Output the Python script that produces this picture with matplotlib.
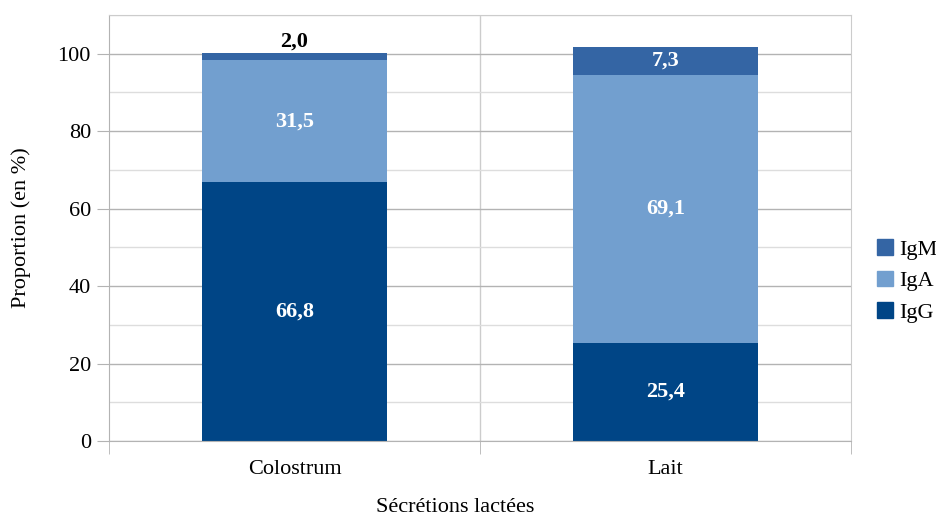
import matplotlib
matplotlib.use("Agg")
import matplotlib.pyplot as plt
from matplotlib.patches import Patch
import numpy as np

categories = ["Colostrum", "Lait"]
igg = [66.8, 25.4]
iga = [31.5, 69.1]
igm = [2.0, 7.3]
series_names = ["IgG", "IgA", "IgM"]
colors = {"IgG": "#004586", "IgA": "#729FCF", "IgM": "#3465A4"}

plt.rcParams['font.family'] = ['Liberation Serif', 'DejaVu Serif']

fig = plt.figure(figsize=(9.37, 5.17), dpi=100)
ax = fig.add_axes([109/937, 1-441/517, (851-109)/937, (441-15)/517])

x = np.arange(len(categories))
w = 0.5
data = {"IgG": igg, "IgA": iga, "IgM": igm}
bottom = np.zeros(len(categories))
for name in series_names:
    vals = np.array(data[name])
    ax.bar(x, vals, w, bottom=bottom, color=colors[name], zorder=3, label=name)
    for i, v in enumerate(vals):
        lab = f"{v:.1f}".replace(".", ",")
        if v < 4:
            ax.text(x[i], bottom[i] + v + 0.2, lab, ha="center", va="bottom",
                    color="black", fontsize=16, fontweight="bold", zorder=4)
        else:
            ax.text(x[i], bottom[i] + v/2, lab, ha="center", va="center",
                    color="white", fontsize=16, fontweight="bold", zorder=4)
    bottom += vals

ax.set_xlim(-0.5, 1.5)
ax.set_ylim(0, 110)
ax.set_yticks(np.arange(0, 101, 20))
ax.set_yticks(np.arange(10, 111, 20), minor=True)
ax.yaxis.grid(True, which="major", color="#b3b3b3", lw=1, zorder=0)
ax.yaxis.grid(True, which="minor", color="#dddddd", lw=1, zorder=0)
ax.tick_params(axis="y", which="major", length=9, color="#b3b3b3", labelsize=16, pad=4)
ax.tick_params(axis="y", which="minor", length=0)

ax.set_xticks(x)
ax.set_xticklabels(categories)
ax.set_xticks([-0.5, 0.5, 1.5], minor=True)
ax.tick_params(axis="x", which="major", length=0, labelsize=16, pad=14)
ax.tick_params(axis="x", which="minor", length=9, color="#b3b3b3")
ax.axvline(0.5, color="#cccccc", lw=1, zorder=0)

for s in ["top", "right"]:
    ax.spines[s].set_color("#cccccc")
for s in ["left", "bottom"]:
    ax.spines[s].set_color("#b3b3b3")
ax.spines["bottom"].set_zorder(5)

fig.text(21/937, 1-228/517, "Proportion (en %)", rotation=90, ha="center", va="center", fontsize=16)
fig.text(455/937, 1-507/517, "Sécrétions lactées", ha="center", va="center", fontsize=16)

handles = [Patch(color=colors[n]) for n in ["IgM", "IgA", "IgG"]]
fig.legend(handles, ["IgM", "IgA", "IgG"], loc="center left",
           bbox_to_anchor=(877/937, 1-281/517), frameon=False, fontsize=16,
           handlelength=0.7, handleheight=0.7, handletextpad=0.3, labelspacing=0.5,
           borderpad=0, borderaxespad=0)

fig.savefig("out.png", dpi=100)
